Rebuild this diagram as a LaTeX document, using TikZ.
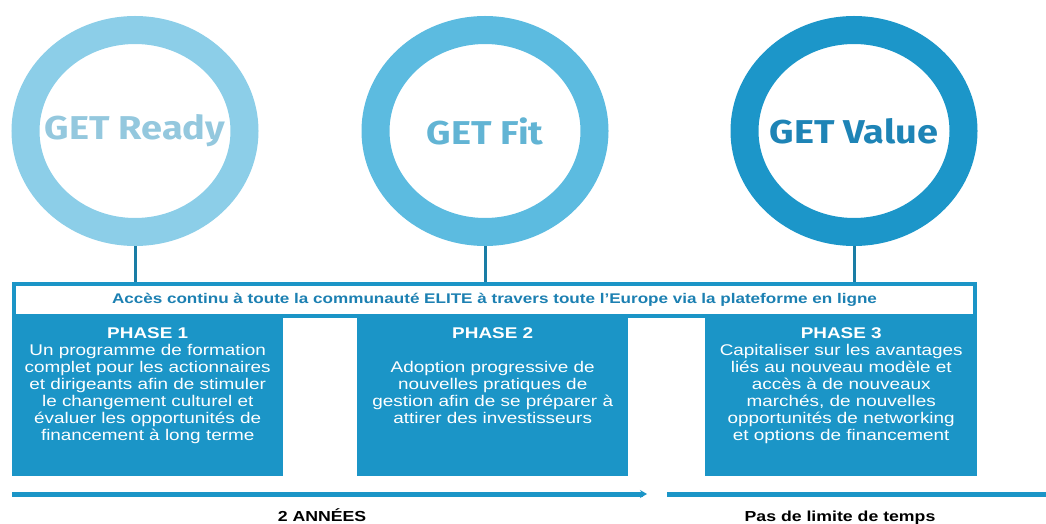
\documentclass[tikz,border=0pt]{standalone}
\usepackage{fontspec}
\setmainfont{Liberation Sans}[FakeStretch=1.22]
\newfontfamily\getfont{Fira Sans}[FakeStretch=1.15]
\usetikzlibrary{arrows.meta,shapes.geometric}
\definecolor{ringA}{RGB}{140,206,232}
\definecolor{ringB}{RGB}{92,187,224}
\definecolor{ringC}{RGB}{28,150,201}
\definecolor{labelA}{RGB}{148,200,222}
\definecolor{labelB}{RGB}{98,180,212}
\definecolor{labelC}{RGB}{30,132,182}
\definecolor{phaseblue}{RGB}{27,149,199}
\definecolor{linkteal}{RGB}{26,125,165}
\definecolor{bannertext}{RGB}{28,128,178}

\begin{document}
\begin{tikzpicture}[x=1pt, y=1pt, >=Stealth,
    ring/.style={ellipse, draw, line width=28pt, minimum width=219pt,
        minimum height=202pt, inner sep=0pt},
    ringlabel/.style={inner sep=0pt, font=\getfont\bfseries\fontsize{33}{33}\selectfont},
    link/.style={draw=linkteal, line width=3pt},
    phasebox/.style={fill=phaseblue, minimum width=271pt, minimum height=160pt,
        inner sep=0pt, anchor=north west},
    phasetext/.style={text=white, align=center, inner sep=0pt, anchor=north,
        font=\fontsize{15.5}{17}\selectfont},
    timeline/.style={draw=phaseblue, line width=5pt},
    span/.style={anchor=base, font=\bfseries\fontsize{14.5}{16}\selectfont}]
    \useasboundingbox (0,0) rectangle (1046,523);

    % The three rings
    \node[ring, draw=ringA, label={[ringlabel, text=labelA]center:GET Ready}] (ready) at (135,392) {};
    \node[ring, draw=ringB, label={[ringlabel, text=labelB]center:GET Fit}] (fit) at (485,392) {};
    \node[ring, draw=ringC, label={[ringlabel, text=labelC]center:GET Value}] (value) at (854,392) {};

    % Banner across the phases
    \node[draw=phaseblue, fill=white, line width=4pt, minimum width=961pt,
        minimum height=32pt, inner sep=0pt, text=bannertext,
        font=\bfseries\fontsize{14}{16}\selectfont] (banner) at (494.5,223)
        {Accès continu à toute la communauté ELITE à travers toute l’Europe via la plateforme en ligne};

    % Rings hang on the banner
    \foreach \r in {ready,fit,value} {
        \draw[link] (\r.south) -- (\r.south |- banner.north);
    }

    % Phase boxes
    \node[phasebox] (phA) at (12,207) {};
    \node[phasebox] (phB) at (357,207) {};
    \node[phasebox, minimum width=272pt] (phC) at (705,207) {};

    \node[phasetext] (phAtext) at ([yshift=-11pt]phA.north)
        {\textbf{PHASE 1}\\Un programme de formation\\complet pour les actionnaires\\
         et dirigeants afin de stimuler\\le changement culturel et\\
         évaluer les opportunités de\\financement à long terme};
    \node[phasetext] (phBtext) at ([yshift=-11pt]phB.north)
        {\textbf{PHASE 2}\\[17pt]Adoption progressive de\\nouvelles pratiques de\\
         gestion afin de se préparer à\\attirer des investisseurs};
    \node[phasetext] (phCtext) at ([yshift=-11pt]phC.north)
        {\textbf{PHASE 3}\\Capitaliser sur les avantages\\liés au nouveau modèle et\\
         accès à de nouveaux\\marchés, de nouvelles\\
         opportunités de networking\\et options de financement};

    % Time lines
    \coordinate (twoStart) at (12,29);
    \coordinate (twoEnd) at (647,29);
    \coordinate (openStart) at (667,29);
    \coordinate (openEnd) at (1046,29);
    \draw[timeline, -{Stealth[length=7pt, width=8pt]}] (twoStart) -- (twoEnd);
    \draw[timeline] (openStart) -- (openEnd);
    \node[span] (twoYears) at (322,2) {2 ANNÉES};
    \node[span] (noLimit) at (840,2) {Pas de limite de temps};
\end{tikzpicture}
\end{document}
